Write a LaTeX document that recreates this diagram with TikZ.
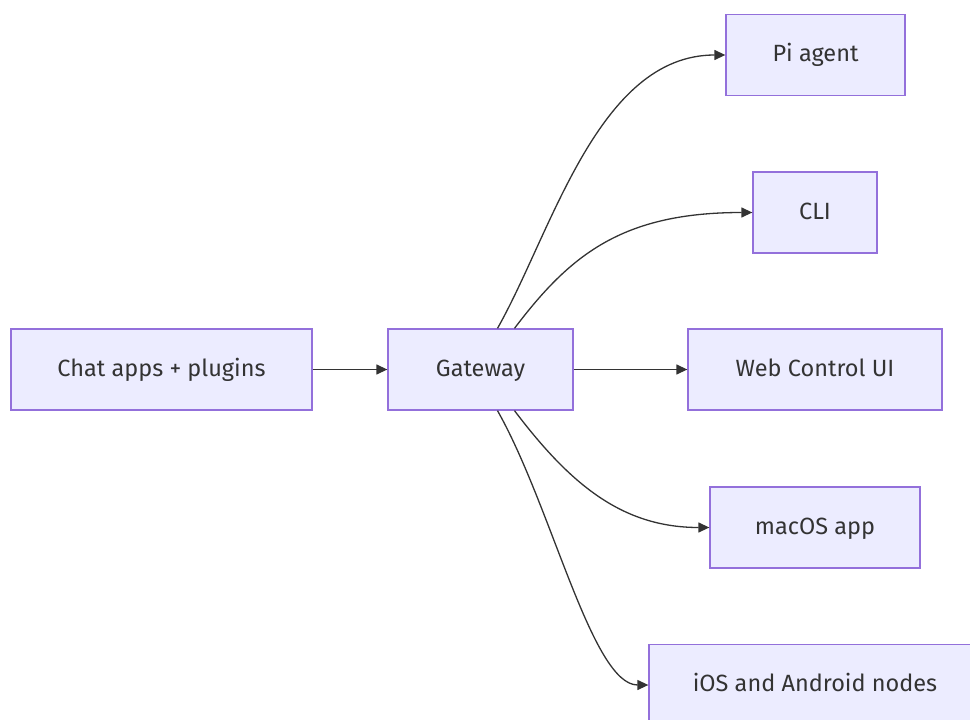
\documentclass[tikz,border=0pt]{standalone}
\usepackage{fontspec}
\setmainfont{Fira Sans}
\usetikzlibrary{arrows.meta}
\definecolor{boxfill}{HTML}{ECECFF}
\definecolor{boxdraw}{HTML}{9370DB}
\definecolor{ink}{HTML}{333333}
\tikzset{
  box/.style={draw=boxdraw, fill=boxfill, line width=1.3pt, minimum height=81pt, inner sep=0pt, text=ink, text height=17pt, text depth=4pt, font=\fontsize{23.5}{26}\selectfont},
  conn/.style={draw=ink, line width=1.3pt, -{Triangle[length=11pt,width=10pt]}}
}
\begin{document}
\begin{tikzpicture}[x=1pt,y=-1pt]
\useasboundingbox (0,0) rectangle (970,720);
\clip (0,0) rectangle (970,720);
\node[box, minimum width=301pt] (chat) at (161.5,369.5) {Chat apps + plugins};
\node[box, minimum width=185pt] (gw) at (480.5,369.5) {Gateway};
\node[box, minimum width=179pt] (pi) at (815.5,55) {Pi agent};
\node[box, minimum width=124pt] (cli) at (815,212.5) {CLI};
\node[box, minimum width=254pt] (web) at (815,369.5) {Web Control UI};
\node[box, minimum width=210pt] (mac) at (815,527.5) {macOS app};
\node[box, minimum width=332pt] (ios) at (815,685) {iOS and Android nodes};
\draw[conn] (chat.east) -- (gw.west);
\draw[conn] (gw.east) -- (web.west);
\coordinate (gwt1) at ([xshift=17pt]gw.north);
\coordinate (gwt2) at ([xshift=34pt]gw.north);
\coordinate (gwb1) at ([xshift=17pt]gw.south);
\coordinate (gwb2) at ([xshift=34pt]gw.south);
\draw[conn] (gwt1) .. controls (552,232) and (598,55) .. (pi.west);
\draw[conn] (gwt2) .. controls (570,255) and (622,212.5) .. (cli.west);
\draw[conn] (gwb2) .. controls (570,484) and (622,527.5) .. (mac.west);
\draw[conn] (gwb1) .. controls (552,507) and (592,685) .. (ios.west);
\end{tikzpicture}
\end{document}
